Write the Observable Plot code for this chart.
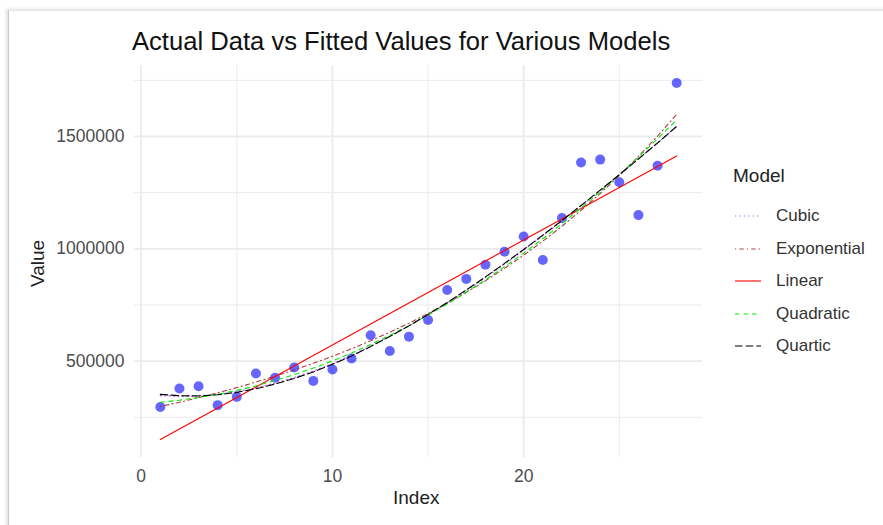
<!DOCTYPE html>
<html>
<head>
<meta charset="utf-8">
<script src="https://cdn.jsdelivr.net/npm/d3@7"></script>
<script src="https://cdn.jsdelivr.net/npm/@observablehq/plot@0.6"></script>
<style>
  html, body { margin: 0; padding: 0; background: #fff; }
  #wrap { position: relative; width: 883px; height: 525px; overflow: hidden; font-family: "Liberation Sans", Arial, sans-serif; }
  #frame { position: absolute; left: 8px; top: 10px; width: 900px; height: 600px; border-left: 1px solid #c8c8c8; border-top: 1px solid #e4e4e4; box-shadow: -2px -1px 3px rgba(0,0,0,0.12); }
  #title { position: absolute; left: 132px; top: 27px; font-size: 25.6px; color: #111; white-space: nowrap; }
  #chart { position: absolute; left: 0; top: 60px; }
  .axtitle { position: absolute; font-size: 19px; color: #222; white-space: nowrap; }
  #legend { position: absolute; left: 733px; top: 165px; color: #333; }
  #legend .lt { font-size: 19px; color: #222; margin-bottom: 13px; }
  #legend .it { display: flex; align-items: center; height: 32.5px; font-size: 17px; }
  #legend svg { margin-right: 13px; }
</style>
</head>
<body>
<div id="wrap">
  <div id="frame"></div>
  <div id="title">Actual Data vs Fitted Values for Various Models</div>
  <div id="chart"></div>
  <div class="axtitle" id="xt" style="left:393px; top:487px;">Index</div>
  <div class="axtitle" id="yt" style="left:14px; top:252px; transform: rotate(-90deg); transform-origin: 24px 11px;">Value</div>
  <div id="legend"></div>
</div>
<script>
// ---- data ----
const indexValues = [1,2,3,4,5,6,7,8,9,10,11,12,13,14,15,16,17,18,19,20,21,22,23,24,25,26,27,28];
const actualValues = [296000, 378000, 388000, 304000, 341000, 445000, 426000, 472000, 412000, 463000,
  512000, 615000, 545000, 609000, 683000, 817000, 866000, 929000, 987000, 1055000,
  950000, 1137000, 1384000, 1397000, 1296000, 1150000, 1370000, 1738000];
const cubicValues = [346500, 343600, 345900, 352300, 364600, 380500, 402100, 426900, 455900, 489000,
  525800, 566300, 610200, 656400, 706600, 758800, 814700, 872200, 932000, 994100,
  1058100, 1123900, 1191500, 1259400, 1329700, 1400100, 1472400, 1544500];
const exponentialValues = [298000, 317100, 337500, 359100, 382200, 406700, 432800, 460600, 490200, 521600,
  555100, 590700, 628600, 669000, 711900, 757600, 806200, 858000, 913000, 971600,
  1034000, 1100400, 1171000, 1246100, 1326100, 1411200, 1501800, 1598200];
const linearValues = [151000, 197800, 244500, 291300, 338000, 384800, 431600, 478300, 525100, 571800,
  618600, 665400, 712100, 758900, 805600, 852400, 899200, 945900, 992700, 1039400,
  1086200, 1133000, 1179700, 1226500, 1273200, 1320000, 1366800, 1413500];
const quadraticValues = [317000, 326000, 338000, 352000, 370000, 390000, 414000, 440000, 469000, 501000,
  536000, 574000, 615000, 658000, 705000, 754000, 807000, 862000, 920000, 981000,
  1045000, 1112000, 1182000, 1254000, 1330000, 1408000, 1490000, 1574000];
const quarticValues = [352000, 346000, 345000, 350000, 361000, 377000, 398000, 423000, 452000, 486000,
  523000, 565000, 610000, 657000, 708000, 761000, 817000, 875000, 935000, 997000,
  1061000, 1126000, 1193000, 1261000, 1330000, 1400000, 1471000, 1545000];
const modelNames = ["Cubic", "Exponential", "Linear", "Quadratic", "Quartic"];
const xTicks = [0, 10, 20];
const xMinor = [5, 15, 25];
const yTicks = [500000, 1000000, 1500000];
const yMinor = [250000, 750000, 1250000, 1750000];

// ---- styles ----
const modelStyle = {
  Cubic:       {stroke: "#a020f0", dash: "1.2,3.2", opacity: 0.75},
  Exponential: {stroke: "#a52a2a", dash: "1.2,3.2,4.3,3.2", opacity: 0.9},
  Linear:      {stroke: "#ff0000", dash: null, opacity: 1},
  Quadratic:   {stroke: "#00ee00", dash: "4.3,4.3", opacity: 1},
  Quartic:     {stroke: "#000000", dash: "7.5,3.2", opacity: 1}
};
const modelValues = {
  Cubic: cubicValues, Exponential: exponentialValues, Linear: linearValues,
  Quadratic: quadraticValues, Quartic: quarticValues
};

const points = indexValues.map((d, i) => ({index: d, value: actualValues[i]}));
const lineMarks = modelNames.map(m => {
  const rows = indexValues.map((d, i) => ({index: d, value: modelValues[m][i]}));
  const s = modelStyle[m];
  return Plot.line(rows, {x: "index", y: "value", stroke: s.stroke, strokeWidth: 1.1,
    strokeOpacity: s.opacity, strokeDasharray: s.dash || undefined});
});

const chart = Plot.plot({
  width: 883,
  height: 465,
  marginLeft: 134,
  marginRight: 181,
  marginTop: 5,
  marginBottom: 68,
  style: {fontFamily: "'Liberation Sans', Arial, sans-serif", background: "transparent"},
  x: {domain: [-0.35, 29.35]},
  y: {domain: [71000, 1816000]},
  marks: [
    Plot.gridX(xMinor, {stroke: "#ebebeb", strokeOpacity: 1, strokeWidth: 1}),
    Plot.gridY(yMinor, {stroke: "#ebebeb", strokeOpacity: 1, strokeWidth: 1}),
    Plot.gridX(xTicks, {stroke: "#ebebeb", strokeOpacity: 1, strokeWidth: 1.8}),
    Plot.gridY(yTicks, {stroke: "#ebebeb", strokeOpacity: 1, strokeWidth: 1.8}),
    Plot.dot(points, {x: "index", y: "value", r: 5, fill: "#0000ff", fillOpacity: 0.6, stroke: "none"}),
    ...lineMarks,
    Plot.axisX(xTicks, {tickSize: 0, tickPadding: 12, fontSize: 17.5, fill: "#4d4d4d", label: null}),
    Plot.axisY(yTicks, {tickSize: 0, tickPadding: 10, fontSize: 17.5, fill: "#4d4d4d", label: null, tickFormat: d => String(d)})
  ]
});
document.getElementById("chart").appendChild(chart);

// ---- legend ----
const legend = document.getElementById("legend");
const lt = document.createElement("div");
lt.className = "lt";
lt.textContent = "Model";
legend.appendChild(lt);
modelNames.forEach(m => {
  const s = modelStyle[m];
  const it = document.createElement("div");
  it.className = "it";
  const ns = "http://www.w3.org/2000/svg";
  const svg = document.createElementNS(ns, "svg");
  svg.setAttribute("width", "30");
  svg.setAttribute("height", "12");
  const ln = document.createElementNS(ns, "line");
  ln.setAttribute("x1", "2"); ln.setAttribute("x2", "28");
  ln.setAttribute("y1", "6"); ln.setAttribute("y2", "6");
  ln.setAttribute("stroke", s.stroke);
  ln.setAttribute("stroke-opacity", s.opacity);
  ln.setAttribute("stroke-width", "1.1");
  if (s.dash) ln.setAttribute("stroke-dasharray", s.dash);
  svg.appendChild(ln);
  it.appendChild(svg);
  const tx = document.createElement("span");
  tx.textContent = m;
  it.appendChild(tx);
  legend.appendChild(it);
});
</script>
</body>
</html>
